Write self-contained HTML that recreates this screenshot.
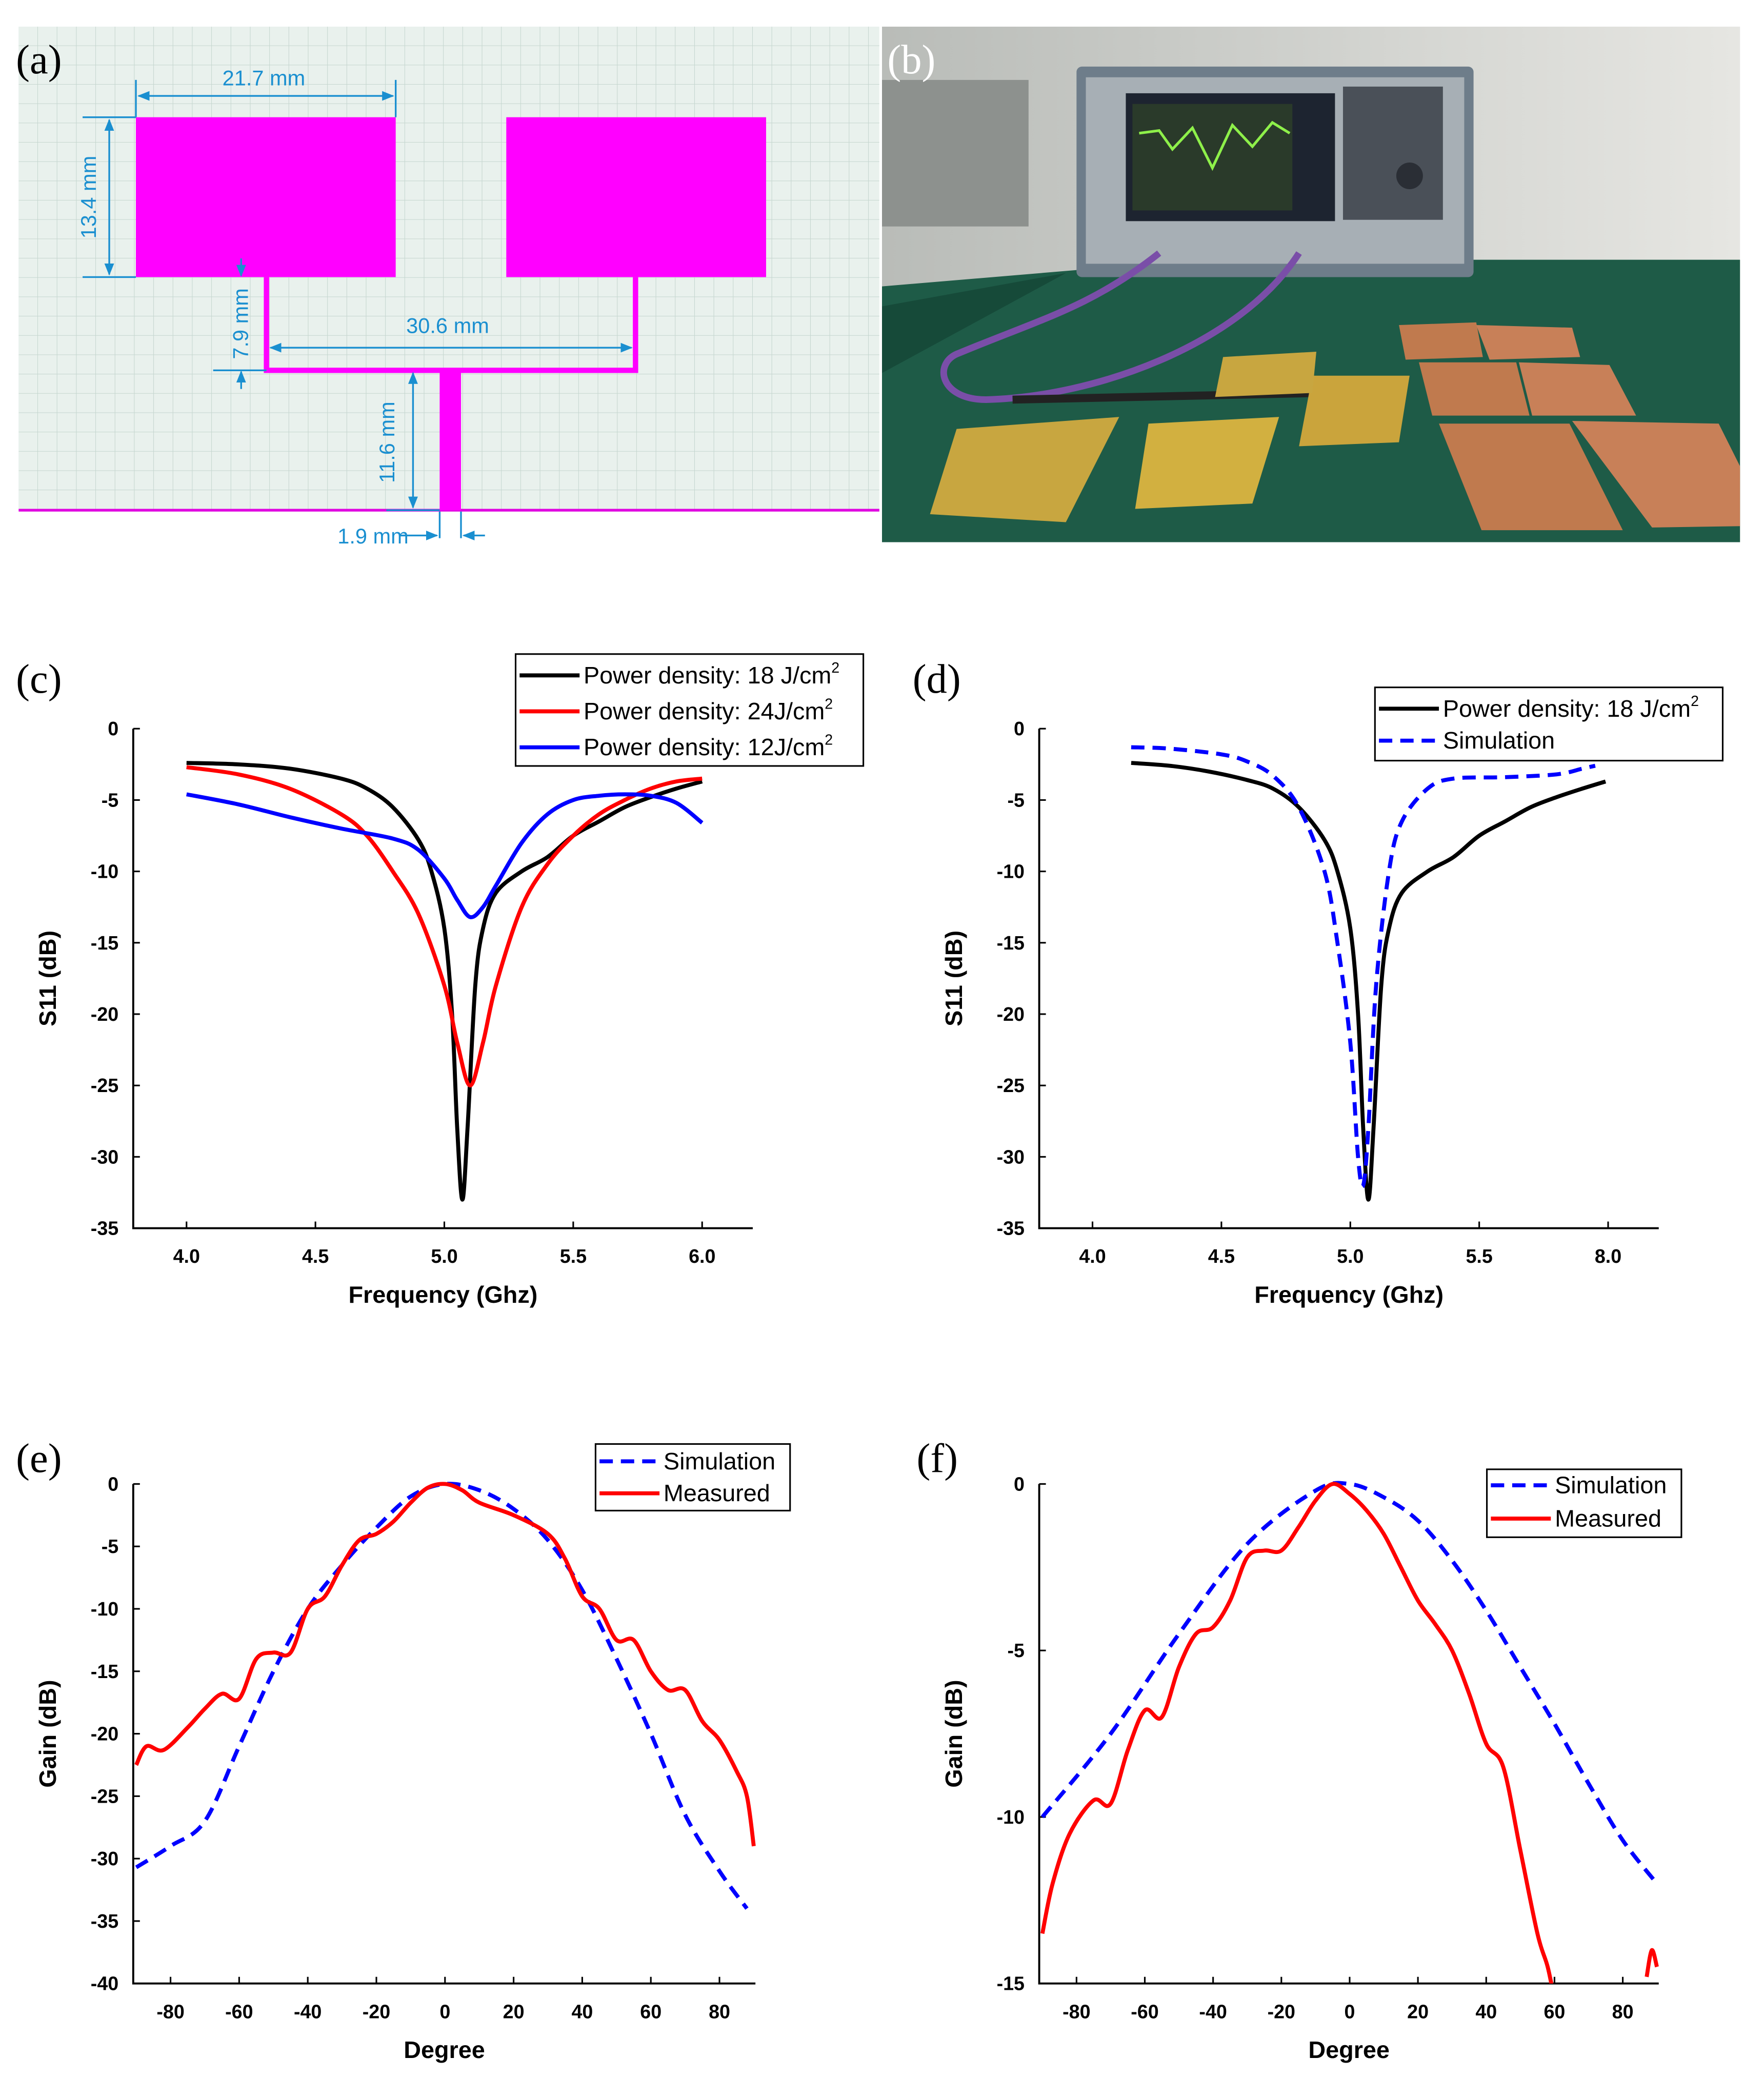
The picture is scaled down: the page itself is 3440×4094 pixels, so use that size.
<!DOCTYPE html>
<html><head><meta charset="utf-8"><style>
html,body{margin:0;padding:0;background:#fff}
svg{display:block}
.tk{font-family:"Liberation Sans",sans-serif;font-weight:bold;font-size:14.5px}
.ax{font-family:"Liberation Sans",sans-serif;font-weight:bold;font-size:18px}
.lg{font-family:"Liberation Sans",sans-serif;font-size:18px}
.pl{font-family:"Liberation Serif",serif;font-size:31px}
.dim{font-family:"Liberation Sans",sans-serif;font-size:16px;fill:#1a8fd0}
</style></head><body>
<svg id="fig" width="3440" height="4094" viewBox="0 0 1324 1575.7" xmlns="http://www.w3.org/2000/svg">
<defs>
<pattern id="grid" width="14.5" height="14.5" patternUnits="userSpaceOnUse" x="14" y="20"><path d="M14.5 0V14.5H0" fill="none" stroke="#c5d6cf" stroke-width="0.8"/></pattern>
<marker id="ar" viewBox="0 0 10 10" refX="9" refY="5" markerWidth="7" markerHeight="7" orient="auto-start-reverse"><path d="M0 1L10 5L0 9z" fill="#1a8fd0"/></marker>
<linearGradient id="wall" x1="0" y1="0" x2="1" y2="0"><stop offset="0" stop-color="#b9bcb8"/><stop offset="1" stop-color="#e6e6e2"/></linearGradient>
</defs>

<g>
<rect x="14" y="20" width="646" height="364" fill="#e9f1ed"/>
<rect x="14" y="20" width="646" height="364" fill="url(#grid)"/>
<line x1="14" y1="383" x2="660" y2="383" stroke="#e000e0" stroke-width="2"/>
<rect x="102" y="88" width="195" height="120" fill="#ff00ff"/>
<rect x="380" y="88" width="195" height="120" fill="#ff00ff"/>
<path d="M200 208V278H477V208" fill="none" stroke="#ff00ff" stroke-width="4"/>
<rect x="330" y="278" width="16" height="105" fill="#ff00ff"/>
<g stroke="#1a8fd0" stroke-width="1.3" fill="none">
<line x1="104" y1="72" x2="295" y2="72" marker-start="url(#ar)" marker-end="url(#ar)"/>
<line x1="102" y1="60" x2="102" y2="88"/><line x1="297" y1="60" x2="297" y2="88"/>
<line x1="82" y1="90" x2="82" y2="206" marker-start="url(#ar)" marker-end="url(#ar)"/>
<line x1="62" y1="88" x2="102" y2="88"/><line x1="62" y1="208" x2="102" y2="208"/>
<line x1="181" y1="194" x2="181" y2="207" marker-end="url(#ar)"/>
<line x1="181" y1="292" x2="181" y2="279" marker-end="url(#ar)"/>
<line x1="160" y1="278" x2="200" y2="278"/>
<line x1="203" y1="261" x2="474" y2="261" marker-start="url(#ar)" marker-end="url(#ar)"/>
<line x1="310" y1="280" x2="310" y2="381" marker-start="url(#ar)" marker-end="url(#ar)"/>
<line x1="290" y1="383" x2="330" y2="383"/>
<line x1="300" y1="402" x2="328" y2="402" marker-end="url(#ar)"/>
<line x1="364" y1="402" x2="348" y2="402" marker-end="url(#ar)"/>
<line x1="330" y1="384" x2="330" y2="404"/><line x1="346" y1="384" x2="346" y2="404"/>
</g>
<text class="dim" x="198" y="64" text-anchor="middle">21.7 mm</text>
<text class="dim" transform="translate(72 148) rotate(-90)" text-anchor="middle">13.4 mm</text>
<text class="dim" transform="translate(186 243) rotate(-90)" text-anchor="middle">7.9 mm</text>
<text class="dim" x="336" y="250" text-anchor="middle">30.6 mm</text>
<text class="dim" transform="translate(296 332) rotate(-90)" text-anchor="middle">11.6 mm</text>
<text class="dim" x="280" y="408" text-anchor="middle">1.9 mm</text>
<text class="pl" x="12" y="55">(a)</text>
</g>

<g>
<rect x="662" y="20" width="644" height="387" fill="url(#wall)"/>
<rect x="662" y="60" width="110" height="110" fill="#8d918e"/>
<polygon points="662,215 900,195 1306,195 1306,407 662,407" fill="#1e5b47"/>
<polygon points="662,230 800,205 662,280" fill="#164a39"/>
<rect x="808" y="50" width="298" height="158" fill="#6e7d8a" rx="4"/>
<rect x="815" y="58" width="284" height="140" fill="#a7afb5"/>
<rect x="845" y="70" width="157" height="96" fill="#1d2430"/>
<rect x="850" y="78" width="120" height="80" fill="#2a3a2a"/>
<path d="M855 100L870 98L880 112L895 96L910 126L925 94L940 110L955 92L968 100" stroke="#8ef04a" stroke-width="2" fill="none"/>
<rect x="1008" y="65" width="75" height="100" fill="#4a5058"/>
<circle cx="1058" cy="132" r="10" fill="#2a2e35"/>
<path d="M870 190C820 230 780 240 720 265C700 272 705 300 740 300C820 298 930 260 975 190" stroke="#7a4ea8" stroke-width="5" fill="none"/>
<path d="M760 300L990 295" stroke="#222" stroke-width="6"/>
<polygon points="718,322 840,313 800,392 698,386" fill="#c8a640"/>
<polygon points="862,318 960,313 940,378 852,382" fill="#d2b040"/>
<polygon points="985,282 1058,282 1050,332 975,335" fill="#caa43c"/>
<polygon points="918,268 988,264 985,295 912,298" fill="#c8a640"/>
<polygon points="1050,244 1108,242 1113,268 1055,270" fill="#c07a4e"/>
<polygon points="1108,244 1180,246 1186,268 1118,270" fill="#c88058"/>
<polygon points="1065,272 1138,272 1148,312 1075,312" fill="#c07a4e"/>
<polygon points="1140,272 1208,274 1228,312 1150,312" fill="#c88058"/>
<polygon points="1080,318 1178,318 1218,398 1112,398" fill="#c07a4e"/>
<polygon points="1180,316 1290,318 1306,350 1306,395 1240,396" fill="#c88058"/>
<text class="pl" x="666" y="55" fill="#fff">(b)</text>
</g>
</svg>
<script>
const cFreqBlack=[4.0,4.2,4.4,4.6,4.7,4.8,4.9,4.95,5.0,5.03,5.05,5.07,5.09,5.12,5.15,5.2,5.3,5.4,5.5,5.6,5.7,5.8,5.9,6.0];
const cS11Black=[-2.4,-2.5,-2.8,-3.5,-4.2,-5.5,-7.8,-10,-14,-20,-28,-33,-28,-18,-14,-11.5,-10,-9,-7.5,-6.5,-5.5,-4.8,-4.2,-3.7];
const cFreqRed=[4.0,4.2,4.4,4.6,4.7,4.8,4.9,5.0,5.05,5.1,5.15,5.2,5.3,5.4,5.5,5.6,5.7,5.8,5.9,6.0];
const cS11Red=[-2.7,-3.2,-4.2,-6,-7.5,-10,-13,-18,-22,-25,-22,-18,-12.5,-9.5,-7.5,-6,-5,-4.2,-3.7,-3.5];
const cFreqBlue=[4.0,4.2,4.4,4.6,4.8,4.9,5.0,5.05,5.1,5.15,5.2,5.3,5.4,5.5,5.6,5.7,5.8,5.9,6.0];
const cS11Blue=[-4.6,-5.3,-6.2,-7,-7.7,-8.5,-10.5,-12,-13.2,-12.5,-11,-8,-6,-5,-4.7,-4.6,-4.7,-5.2,-6.6];
const dFreqMeas=[4.15,4.3,4.45,4.6,4.7,4.8,4.9,4.95,5.0,5.03,5.05,5.07,5.09,5.12,5.15,5.2,5.3,5.4,5.5,5.6,5.7,5.8,5.9,5.99];
const dS11Meas=[-2.4,-2.6,-3,-3.6,-4.2,-5.5,-7.8,-10,-14,-20,-28,-33,-28,-18,-14,-11.5,-10,-9,-7.5,-6.5,-5.5,-4.8,-4.2,-3.7];
const dFreqSim=[4.15,4.3,4.5,4.6,4.7,4.8,4.9,4.95,5.0,5.03,5.05,5.07,5.1,5.15,5.2,5.3,5.4,5.6,5.8,5.9,5.95];
const dS11Sim=[-1.3,-1.4,-1.8,-2.3,-3.3,-5.5,-10,-15,-22,-30,-32,-28,-18,-10,-6.5,-4.2,-3.5,-3.4,-3.2,-2.8,-2.6];
const eDegSim=[-90,-80,-70,-60,-50,-40,-30,-20,-10,0,10,20,30,40,50,60,70,80,88];
const eGainSim=[-30.7,-29,-27,-21,-15,-10,-6.5,-3.5,-1,0,-0.5,-2,-4.5,-8.5,-14,-20,-26.5,-31,-34];
const eDegMeas=[-90,-87,-82,-75,-70,-65,-60,-55,-50,-45,-40,-35,-30,-25,-20,-15,-10,-5,0,5,10,20,30,35,40,45,50,55,60,65,70,75,80,85,88,90];
const eGainMeas=[-22.5,-21,-21.3,-19.5,-18,-16.8,-17.2,-14,-13.5,-13.5,-10,-9,-6.5,-4.5,-4,-3,-1.5,-0.3,0,-0.5,-1.5,-2.5,-4,-6,-9,-10,-12.5,-12.5,-15,-16.5,-16.5,-19,-20.5,-23,-25,-29];
const fDegSim=[-90,-70,-50,-30,-10,0,10,20,30,40,50,60,70,80,90];
const fGainSim=[-10,-7.5,-4.5,-1.8,-0.2,0,-0.4,-1.1,-2.3,-3.8,-5.5,-7.2,-9,-10.7,-12];
const fDegMeas=[-90,-87,-82,-75,-70,-65,-60,-55,-50,-45,-40,-35,-30,-25,-20,-15,-10,-5,0,5,10,15,20,25,30,35,40,45,50,55,58,60];
const fGainMeas=[-13.5,-12,-10.5,-9.5,-9.6,-8,-6.8,-7,-5.5,-4.5,-4.3,-3.5,-2.2,-2,-2,-1.3,-0.5,0,-0.3,-0.8,-1.5,-2.5,-3.5,-4.2,-5,-6.3,-7.8,-8.5,-11,-13.5,-14.5,-15.5];
const fDegTail=[87,88.5,90];
const fGainTail=[-14.8,-14,-14.5];
const freqTicks=[4.0,4.5,5.0,5.5,6.0];
const s11Ticks=[0,-5,-10,-15,-20,-25,-30,-35];
const degTicks=[-80,-60,-40,-20,0,20,40,60,80];
const eGainTicks=[0,-5,-10,-15,-20,-25,-30,-35,-40];
const fGainTicks=[0,-5,-10,-15];

const NS='http://www.w3.org/2000/svg';
const fig=document.getElementById('fig');
const defs=fig.querySelector('defs');
function mk(tag,attrs,parent){const e=document.createElementNS(NS,tag);for(const k in attrs)e.setAttribute(k,attrs[k]);(parent||fig).appendChild(e);return e;}
function smooth(P){
  let d='M'+P[0][0].toFixed(2)+' '+P[0][1].toFixed(2);
  for(let i=0;i<P.length-1;i++){
    const p0=P[i-1]||P[i],p1=P[i],p2=P[i+1],p3=P[i+2]||P[i+1];
    const c1=[p1[0]+(p2[0]-p0[0])/6,p1[1]+(p2[1]-p0[1])/6];
    const c2=[p2[0]-(p3[0]-p1[0])/6,p2[1]-(p3[1]-p1[1])/6];
    d+='C'+c1.map(v=>v.toFixed(2)).join(' ')+' '+c2.map(v=>v.toFixed(2)).join(' ')+' '+p2.map(v=>v.toFixed(2)).join(' ');
  }
  return d;
}
let clipN=0;
function panel(o){
  const g=mk('g',{});
  
  
  const sx=v=>o.x0+(v-o.xa)*(o.x1-o.x0)/(o.xb-o.xa);
  const sy=v=>o.y0+(v-o.ya)*(o.y1-o.y0)/(o.yb-o.ya);
  const cid='clip'+(clipN++);
  const cp=mk('clipPath',{id:cid},defs);
  mk('rect',{x:o.L,y:o.T-20,width:o.R-o.L+10,height:o.B-o.T+20},cp);
  const ax=mk('path',{d:`M${o.L} ${o.T}V${o.B}H${o.R}`,fill:'none',stroke:'#000','stroke-width':1.5},g);
  
  
  o.xt.forEach(v=>{
    const X=sx(v);
    const l=mk('line',{x1:X,x2:X,y1:o.B,y2:o.B-5,stroke:'#000','stroke-width':1.2},g);
    
    
    const t=mk('text',{x:X,y:o.B+26,'text-anchor':'middle',class:'tk'},g);
    t.textContent=o.xfmt(v);
    
    
  });
  o.yt.forEach(v=>{
    const Y=sy(v);
    const l=mk('line',{x1:o.L,x2:o.L+5,y1:Y,y2:Y,stroke:'#000','stroke-width':1.2},g);
    
    
    const t=mk('text',{x:o.L-11,y:Y+5,'text-anchor':'end',class:'tk'},g);
    t.textContent=String(v);
    
    
  });
  const xt=mk('text',{x:(o.L+o.R)/2,y:o.B+56,'text-anchor':'middle',class:'ax'},g);
  xt.textContent=o.xl;
  
  
  const yt=mk('text',{transform:`translate(${o.L-58} ${(o.T+o.B)/2}) rotate(-90)`,'text-anchor':'middle',class:'ax'},g);
  yt.textContent=o.yl;
  
  
  const pl=mk('text',{x:o.pl[0],y:o.pl[1],class:'pl'},g);
  pl.textContent=o.lab;
  
  
  const sg=mk('g',{'clip-path':`url(#${cid})`},g);
  o.series.forEach(s=>{
    const P=s.x.map((v,i)=>[sx(v),sy(s.y[i])]);
    const p=mk('path',{d:smooth(P),fill:'none',stroke:s.c,'stroke-width':3,'stroke-linejoin':'round','stroke-dasharray':s.dash||'none'},sg);
    
    
  });
  const lb=o.leg;
  const box=mk('rect',{x:lb.x,y:lb.y,width:lb.w,height:lb.h,fill:'#fff',stroke:'#000','stroke-width':1.2},g);
  
  
  lb.items.forEach((it,i)=>{
    const Y=lb.y+lb.first+i*lb.step;
    const l=mk('line',{x1:lb.x+3,x2:lb.x+48,y1:Y,y2:Y,stroke:it.c,'stroke-width':3,'stroke-dasharray':it.dash||'none'},g);
    
    
    const t=mk('text',{x:lb.x+51,y:Y+6,class:'lg'},g);
    t.innerHTML=it.t;
    
    
  });
}
const f1=v=>v.toFixed(1);
const sup='<tspan font-size="11" dy="-8">2</tspan>';
panel({name:'panel-c-s11-power-density',lab:'(c)',pl:[12,520],L:100,R:565,T:547,B:922,
 x0:140,x1:527,xa:4,xb:6,y0:547,y1:922,ya:0,yb:-35,xt:freqTicks,yt:s11Ticks,xfmt:f1,
 xl:'Frequency (Ghz)',yl:'S11 (dB)',
 series:[{n:'series-18J',x:cFreqBlack,y:cS11Black,c:'#000'},{n:'series-24J',x:cFreqRed,y:cS11Red,c:'#f00'},{n:'series-12J',x:cFreqBlue,y:cS11Blue,c:'#00f'}],
 leg:{x:387,y:491,w:261,h:84,first:16,step:27,items:[{t:'Power density: 18 J/cm'+sup,c:'#000'},{t:'Power density: 24J/cm'+sup,c:'#f00'},{t:'Power density: 12J/cm'+sup,c:'#00f'}]}});
panel({name:'panel-d-s11-simulation',lab:'(d)',pl:[685,520],L:780,R:1245,T:547,B:922,
 x0:820,x1:1207,xa:4,xb:6,y0:547,y1:922,ya:0,yb:-35,xt:freqTicks,yt:s11Ticks,xfmt:v=>v===6?'8.0':f1(v),
 xl:'Frequency (Ghz)',yl:'S11 (dB)',
 series:[{n:'series-measured',x:dFreqMeas,y:dS11Meas,c:'#000'},{n:'series-simulation',x:dFreqSim,y:dS11Sim,c:'#00f',dash:'10 6'}],
 leg:{x:1032,y:516,w:261,h:55,first:16,step:24,items:[{t:'Power density: 18 J/cm'+sup,c:'#000'},{t:'Simulation',c:'#00f',dash:'10 6'}]}});
panel({name:'panel-e-gain-pattern',lab:'(e)',pl:[12,1105],L:100,R:567,T:1114,B:1489,
 x0:128,x1:540,xa:-80,xb:80,y0:1114,y1:1489,ya:0,yb:-40,xt:degTicks,yt:eGainTicks,xfmt:String,
 xl:'Degree',yl:'Gain (dB)',
 series:[{n:'series-simulation',x:eDegSim,y:eGainSim,c:'#00f',dash:'10 6'},{n:'series-measured',x:eDegMeas,y:eGainMeas,c:'#f00'}],
 leg:{x:447,y:1084,w:146,h:50,first:13,step:24,items:[{t:'Simulation',c:'#00f',dash:'10 6'},{t:'Measured',c:'#f00'}]}});
panel({name:'panel-f-gain-pattern',lab:'(f)',pl:[688,1105],L:780,R:1245,T:1114,B:1489,
 x0:808,x1:1218,xa:-80,xb:80,y0:1114,y1:1489,ya:0,yb:-15,xt:degTicks,yt:fGainTicks,xfmt:String,
 xl:'Degree',yl:'Gain (dB)',
 series:[{n:'series-simulation',x:fDegSim,y:fGainSim,c:'#00f',dash:'10 6'},{n:'series-measured',x:fDegMeas,y:fGainMeas,c:'#f00'},{n:'series-measured-tail',x:fDegTail,y:fGainTail,c:'#f00'}],
 leg:{x:1116,y:1103,w:146,h:51,first:12,step:25,items:[{t:'Simulation',c:'#00f',dash:'10 6'},{t:'Measured',c:'#f00'}]}});
</script>
</body></html>
